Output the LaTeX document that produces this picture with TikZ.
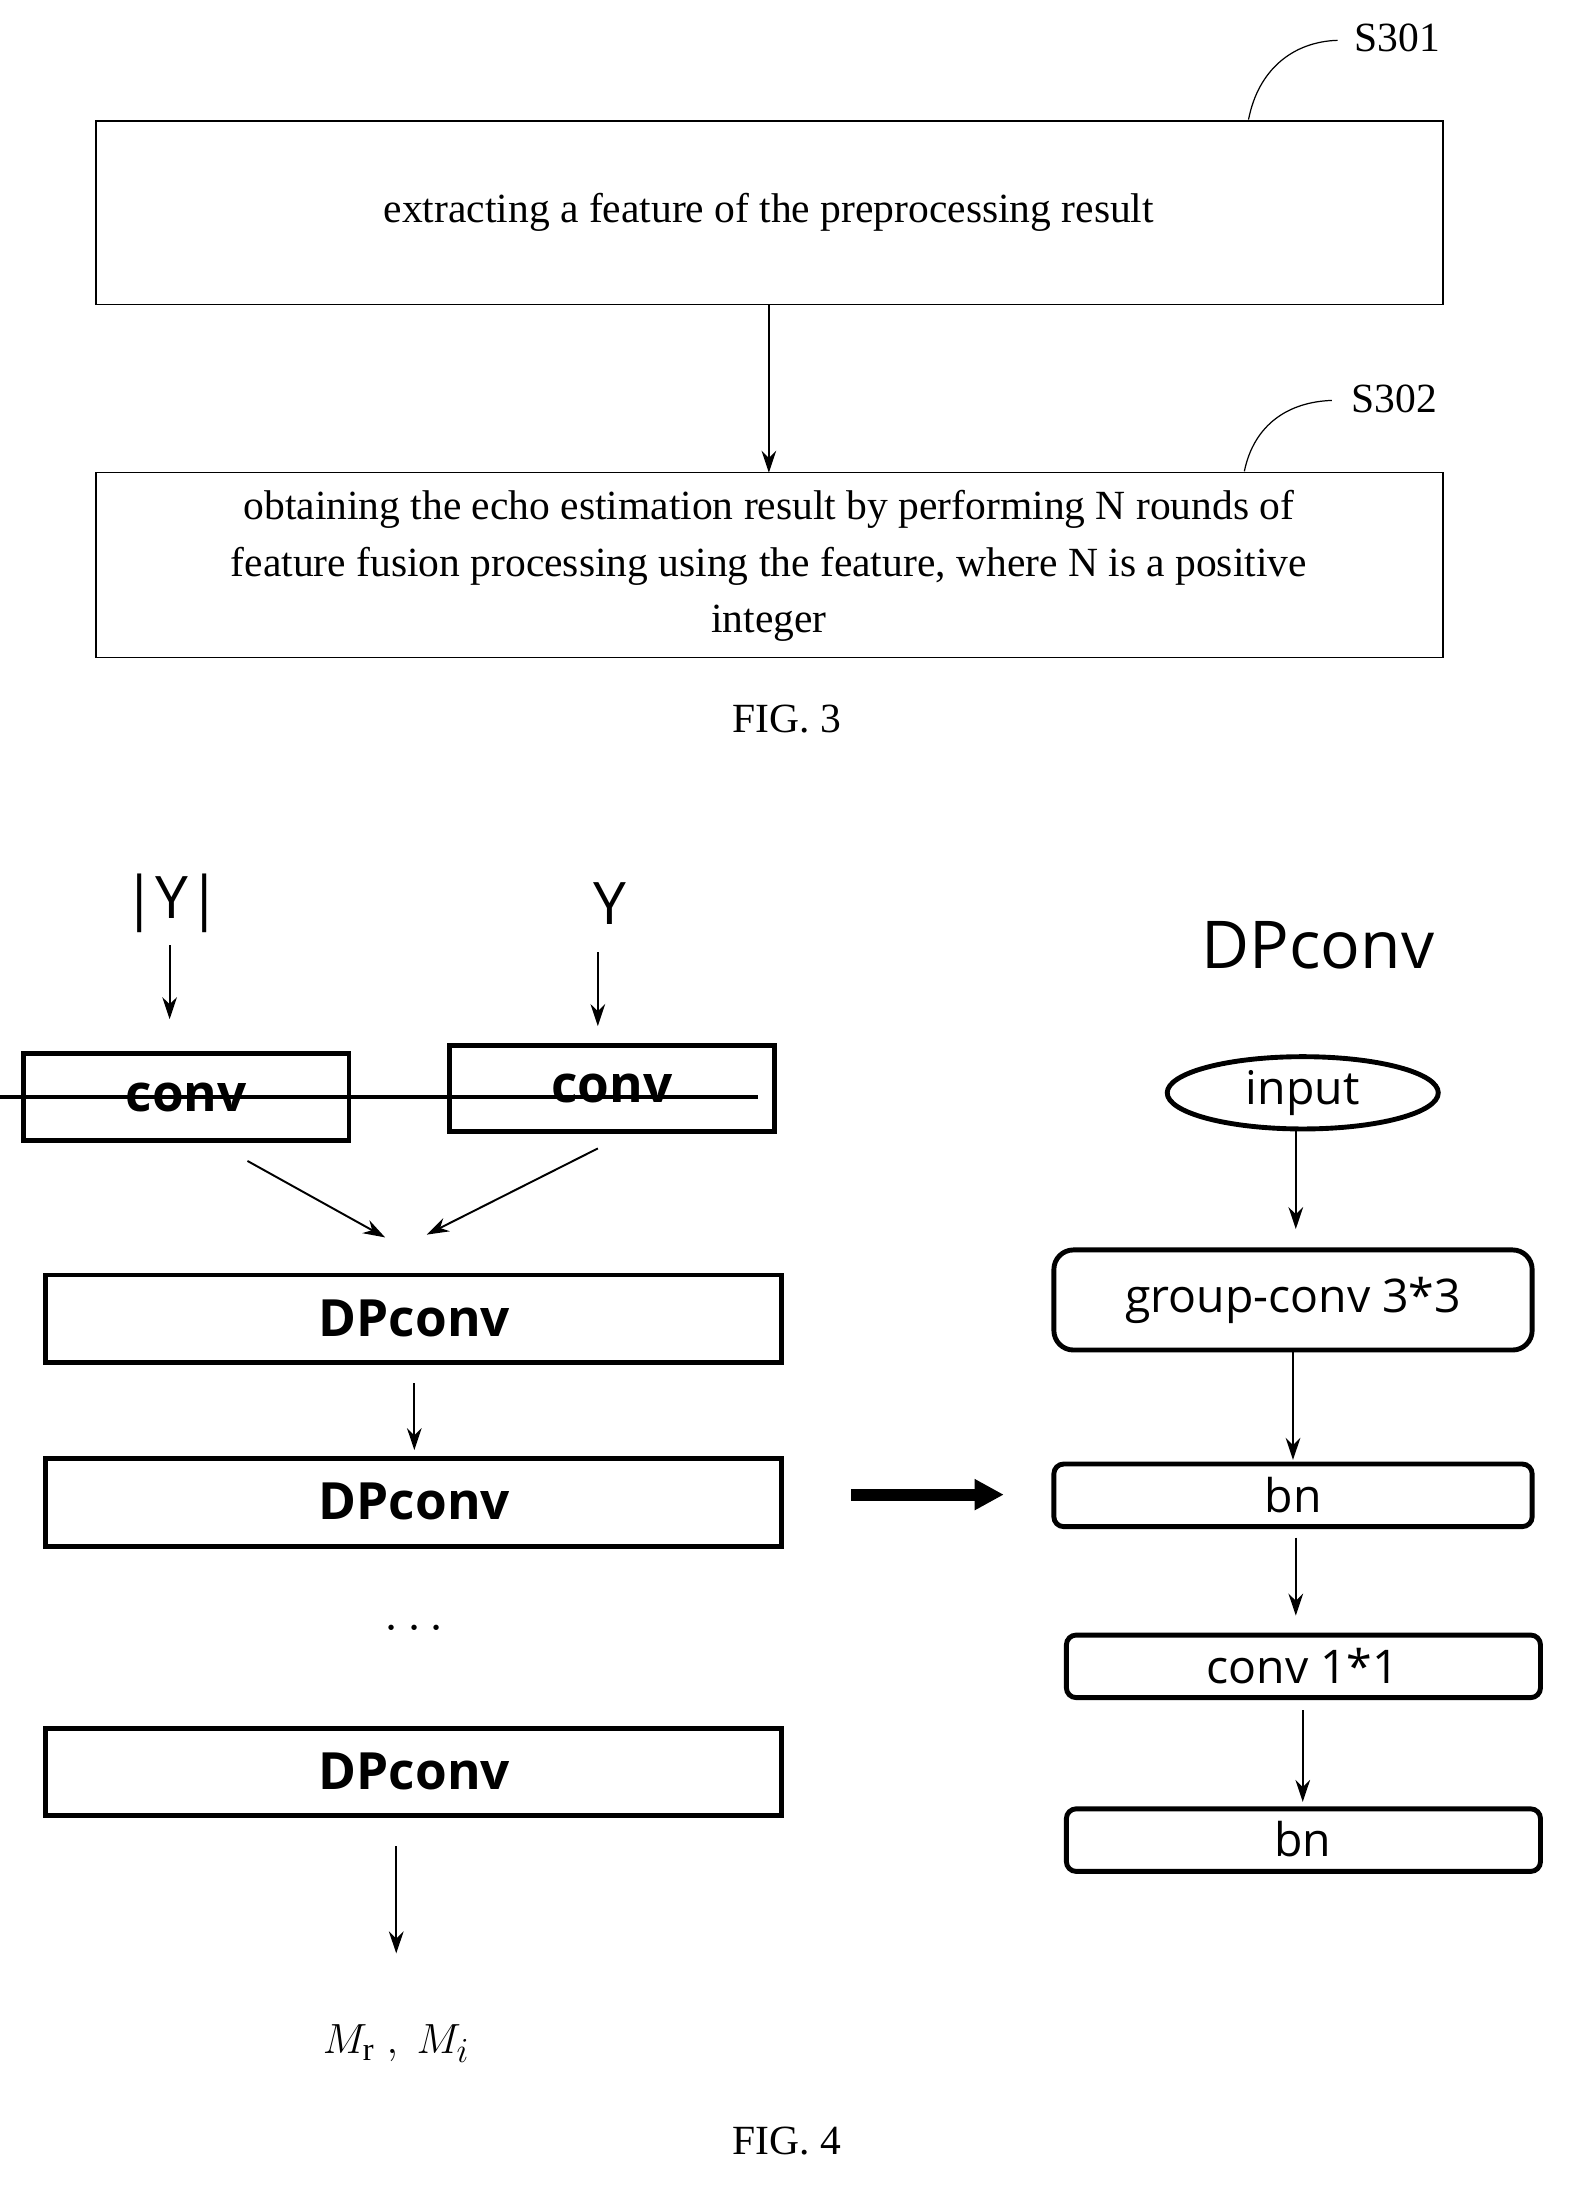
\documentclass[tikz,border=0pt]{standalone}
\usepackage{fontspec}
\setmainfont{Liberation Serif}
\newfontfamily\sfx{Open Sans}
\usetikzlibrary{arrows.meta,shapes.geometric}
\begin{document}
\begin{tikzpicture}[x=0.02cm,y=-0.02cm,
  sbox/.style={draw,line width=0.6pt,minimum height=0pt},
  stxt/.style={font=\fontsize{17}{23}\selectfont,align=center},
  arr/.style={-{Stealth[length=9pt,width=6pt]},line width=0.8pt},
  tbox/.style={draw,line width=2pt,font=\sfx\bfseries\fontsize{21}{25}\selectfont},
  rbox/.style={draw,line width=2pt,rounded corners=4pt,font=\sfx\fontsize{19}{23}\selectfont},
  lbl/.style={font=\fontsize{17}{20}\selectfont}]
\useasboundingbox (0,0) rectangle (1128,1573);
% FIG 3
\draw[sbox] (69,87) rectangle (1038,219);
\node[stxt] (t1) at (553,153) {extracting a feature of the preprocessing result};
\coordinate (b1b) at (553,219);
\draw[sbox] (69,340) rectangle (1038,473);
\coordinate (b2t) at (553,340);
\node[stxt] (t2) at (553,407) {obtaining the echo estimation result by performing N rounds of\\feature fusion processing using the feature, where N is a positive\\integer};
\draw[arr] (b1b) -- (b2t);
\node[lbl] (s1) at (1005,27) {S301};
\node[lbl] (s2) at (1003,287) {S302};
\coordinate (c1) at (898,86); \coordinate (c2) at (962,29);
\coordinate (c3) at (895,339); \coordinate (c4) at (958,288);
\draw[line width=0.5pt] (c1) .. controls (905,50) and (930,30) .. (c2);
\draw[line width=0.5pt] (c3) .. controls (902,305) and (927,289) .. (c4);
\node[lbl] (f3) at (566,517) {FIG. 3};
% FIG 4 left
\node[font=\sfx\fontsize{24}{28}\selectfont] (ya) at (124,650) {|Y|};
\node[font=\sfx\fontsize{24}{28}\selectfont] (yb) at (439,650) {Y};
\node[tbox,minimum width=234\pgflinewidth,inner sep=0pt,minimum height=0pt] (cv1) at (134,789) {};
\draw[line width=2pt] (17,758) rectangle (251,820);
\node[font=\sfx\bfseries\fontsize{21}{25}\selectfont] (cva) at (134,789) {conv};
\draw[line width=2pt] (323,752) rectangle (557,814);
\node[font=\sfx\bfseries\fontsize{21}{25}\selectfont] (cvb) at (440,783) {conv};
\draw[arr] (122,680) -- (122,733);
\draw[arr] (430,685) -- (430,738);
\draw[arr] (178,835) -- (277,890);
\draw[arr] (430,826) -- (307,888);
\draw[line width=2pt] (33,917) rectangle (562,980);
\node[font=\sfx\bfseries\fontsize{21}{25}\selectfont] (d1) at (298,948) {DPconv};
\draw[arr] (298,995) -- (298,1043);
\draw[line width=2pt] (33,1049) rectangle (562,1112);
\node[font=\sfx\bfseries\fontsize{21}{25}\selectfont] (d2) at (298,1080) {DPconv};
\node[font=\sfx\bfseries\fontsize{21}{25}\selectfont] (dots) at (298,1172) {$\cdots$};
\draw[line width=2pt] (33,1243) rectangle (562,1306);
\node[font=\sfx\bfseries\fontsize{21}{25}\selectfont] (d3) at (298,1274) {DPconv};
\draw[arr] (285,1328) -- (285,1405);
\node[font=\fontsize{19}{23}\selectfont] (m) at (285,1470) {$M_{\mathrm{r}}\ ,\ M_i$};
\draw[-{Triangle[length=12pt,width=12pt]},line width=5pt] (612,1075) -- (722,1075);
% right
\node[font=\sfx\fontsize{27}{32}\selectfont] (title) at (948,680) {DPconv};
\node[draw,ellipse,line width=2pt,minimum width=195\pgflinewidth,inner sep=0pt,
      minimum width=3.9cm,minimum height=1.04cm,font=\sfx\fontsize{19}{23}\selectfont] (in) at (937,786) {input};
\draw[arr] (932,813) -- (932,884);
\draw[line width=2pt,rounded corners=8pt] (758,899) rectangle (1102,971);
\node[font=\sfx\fontsize{19}{23}\selectfont] (g) at (930,935) {group-conv 3*3};
\draw[arr] (930,971) -- (930,1050);
\draw[line width=2pt,rounded corners=4pt] (758,1053) rectangle (1102,1098);
\node[font=\sfx\fontsize{19}{23}\selectfont] (bn1) at (930,1075) {bn};
\draw[arr] (932,1106) -- (932,1162);
\draw[line width=2pt,rounded corners=4pt] (767,1176) rectangle (1108,1221);
\node[font=\sfx\fontsize{19}{23}\selectfont] (c11) at (937,1198) {conv 1*1};
\draw[arr] (937,1230) -- (937,1296);
\draw[line width=2pt,rounded corners=4pt] (767,1301) rectangle (1108,1346);
\node[font=\sfx\fontsize{19}{23}\selectfont] (bn2) at (937,1323) {bn};
\node[lbl] (f4) at (566,1540) {FIG. 4};
\end{tikzpicture}
\end{document}
